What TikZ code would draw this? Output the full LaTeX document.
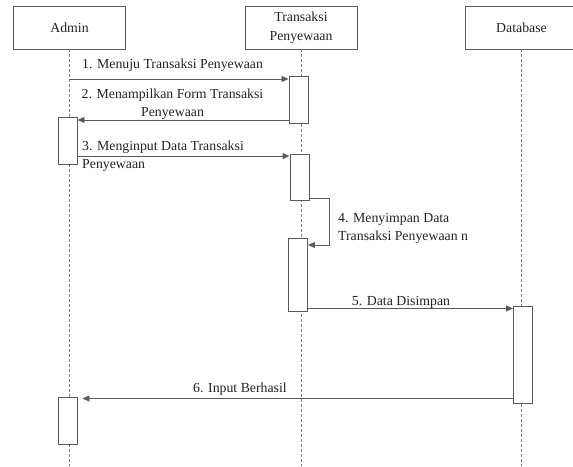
\documentclass[tikz,border=0pt]{standalone}
\usepackage{fontspec}
\setmainfont{Liberation Serif}
\usetikzlibrary{arrows.meta}
\definecolor{linegray}{HTML}{5A5A5A}
\definecolor{textgray}{HTML}{222222}
\tikzset{
	actor/.style={draw=linegray, line width=0.9pt, minimum width=112pt, minimum height=43pt, inner sep=0pt, align=center, text=textgray, font=\fontsize{13.8}{19}\selectfont},
	activ/.style={draw=linegray, line width=0.9pt, fill=white, minimum width=19pt, inner sep=0pt},
	lifeline/.style={draw=linegray!80, line width=0.8pt, dash pattern=on 3pt off 2pt},
	msg/.style={draw=linegray, line width=0.9pt, -{Triangle[length=7pt,width=6pt]}},
	lbl/.style={inner sep=0pt, text=textgray, font=\fontsize{13.8}{18}\selectfont},
}
\begin{document}
\begin{tikzpicture}[x=1pt,y=-1pt]
	\useasboundingbox (0,0) rectangle (573,466);
	\clip (0,0) rectangle (573,466);
	% actors
	\node[actor] (admin) at (69.5,27.5) {Admin};
	\node[actor] (trans) at (301,27.5) {Transaksi\\Penyewaan};
	\node[actor] (db) at (521.5,27.5) {Database};
	% message rows
	\coordinate (bottom) at (0,466);
	\coordinate (m1) at (0,79);
	\coordinate (m2) at (0,120);
	\coordinate (m3) at (0,156);
	\coordinate (m4a) at (0,198);
	\coordinate (m4b) at (0,245);
	\coordinate (m5) at (0,308.5);
	\coordinate (m6) at (0,398.5);
	\coordinate (loopx) at (329,0);
	% lifelines
	\draw[lifeline] (admin.south) -- (admin.south |- bottom);
	\draw[lifeline] (trans.south) -- (trans.south |- bottom);
	\draw[lifeline] (db.south) -- (db.south |- bottom);
	% activations
	\node[activ, minimum height=47pt] (adminAct1) at (67.5,140.5) {};
	\node[activ, minimum height=47pt] (adminAct2) at (67.5,420.5) {};
	\node[activ, minimum height=47pt] (transAct1) at (298.5,99.5) {};
	\node[activ, minimum height=46pt] (transAct2) at (299.5,177) {};
	\node[activ, minimum height=73pt] (transAct3) at (298,274.5) {};
	\node[activ, minimum height=97pt] (dbAct) at (523,354.5) {};
	% messages
	\draw[msg] (admin.south |- m1) -- (transAct1.west |- m1);
	\node[lbl, anchor=west] (l1) at (82,65) {1. Menuju Transaksi Penyewaan};
	\draw[msg] (transAct1.west |- m2) -- (adminAct1.east |- m2);
	\node[lbl, align=center] (l2) at (172.5,104.5) {2. Menampilkan Form Transaksi\\Penyewaan};
	\draw[msg] (adminAct1.east |- m3) -- (transAct2.west |- m3);
	\node[lbl, align=left, anchor=west] (l3) at (82,156.5) {3. Menginput Data Transaksi\\Penyewaan};
	\draw[msg] (transAct2.east |- m4a) -- (loopx |- m4a) -- (loopx |- m4b) -- (transAct3.east |- m4b);
	\node[lbl, align=left, anchor=west] (l4) at (338,228) {4. Menyimpan Data\\Transaksi Penyewaan n};
	\draw[msg] (transAct3.east |- m5) -- (dbAct.west |- m5);
	\node[lbl] (l5) at (401,302) {5. Data Disimpan};
	\draw[msg] (dbAct.west |- m6) -- ([xshift=5pt]adminAct2.east |- m6);
	\node[lbl] (l6) at (240,389) {6. Input Berhasil};
\end{tikzpicture}
\end{document}
